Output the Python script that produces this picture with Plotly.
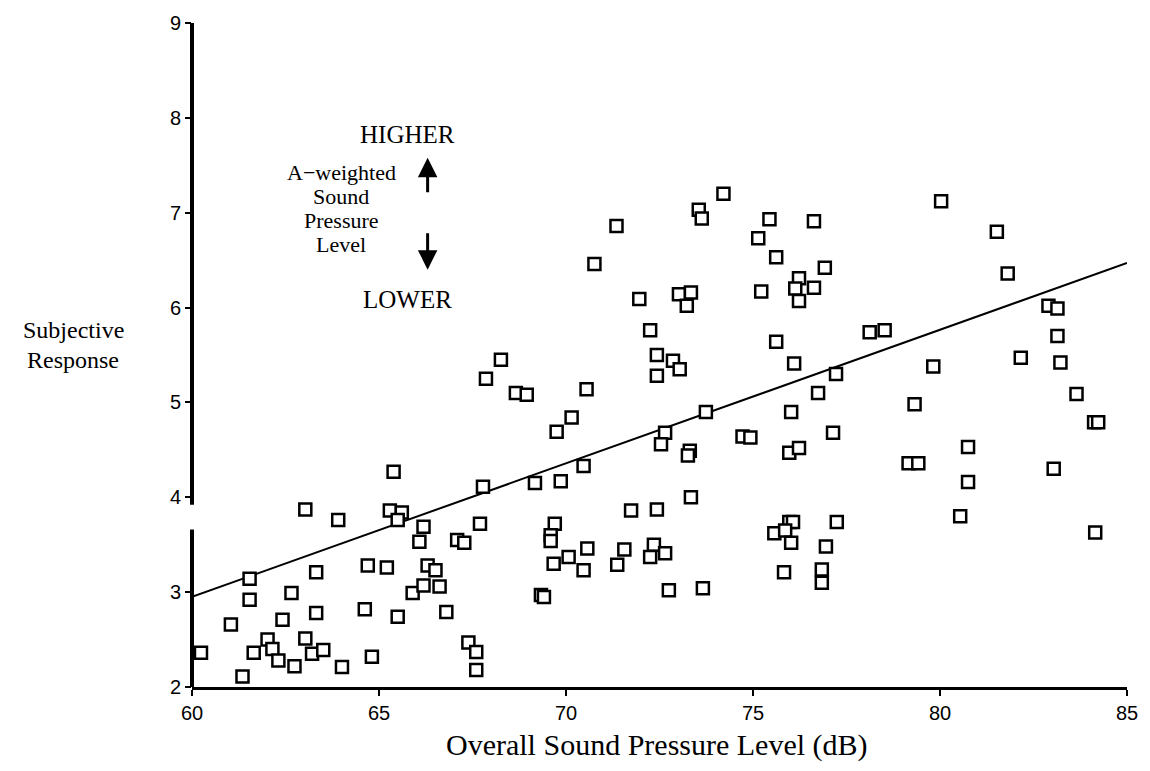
import plotly.graph_objects as go

# Overall sound pressure level (dB)
spl_db = [
    60.24, 61.04, 61.35, 61.54, 61.54, 61.65, 62.02, 62.15, 62.31, 62.42,
    62.66, 62.74, 63.03, 63.21, 63.51, 63.32, 63.32, 64.01, 64.62, 64.70,
    65.21, 64.81, 65.50, 65.90, 66.19, 66.30, 66.51, 66.62, 66.80, 67.39,
    67.60, 67.60, 67.70, 67.78, 63.03, 63.91, 65.29, 65.61, 65.50, 66.19,
    66.08, 67.09, 67.28, 65.39,
    73.74, 76.02, 70.15, 69.75, 72.65, 72.54, 73.31, 73.26, 74.72, 74.93,
    75.97, 76.23, 70.47, 69.17, 69.86, 69.70, 69.59, 69.59, 73.34, 71.74,
    72.43, 70.57, 70.07, 69.67, 70.47, 71.56, 71.37, 72.35, 72.25, 72.65,
    72.75, 73.66, 69.33, 69.41, 75.97, 76.07, 75.57, 75.86, 76.02, 75.83,
    79.32, 77.14, 79.16, 79.42, 80.75, 80.75, 80.54, 83.04, 84.12, 84.23,
    84.15, 77.24, 76.95, 76.84, 76.84,
    74.21, 73.55, 73.63, 71.35, 75.44, 75.14, 75.62, 70.76, 75.22, 71.96,
    73.02, 73.34, 73.23, 72.25, 72.43, 72.86, 73.04, 72.43, 68.26, 67.86,
    68.66, 68.95, 70.55, 75.62, 76.10,
    80.03, 76.63, 81.52, 81.81, 76.92, 76.23, 76.13, 76.63, 76.23, 78.12,
    78.52, 77.22, 76.74, 79.82, 82.16, 82.90, 83.14, 83.14, 83.22, 83.65,
]

# Subjective response
response = [
    2.36, 2.66, 2.11, 3.14, 2.92, 2.36, 2.50, 2.40, 2.28, 2.71,
    2.99, 2.22, 2.51, 2.35, 2.39, 3.21, 2.78, 2.21, 2.82, 3.28,
    3.26, 2.32, 2.74, 2.99, 3.07, 3.28, 3.23, 3.06, 2.79, 2.47,
    2.37, 2.18, 3.72, 4.11, 3.87, 3.76, 3.86, 3.84, 3.76, 3.69,
    3.53, 3.55, 3.52, 4.27,
    4.90, 4.90, 4.84, 4.69, 4.68, 4.56, 4.49, 4.44, 4.64, 4.63,
    4.47, 4.52, 4.33, 4.15, 4.17, 3.72, 3.60, 3.54, 4.00, 3.86,
    3.87, 3.46, 3.37, 3.30, 3.23, 3.45, 3.29, 3.50, 3.37, 3.41,
    3.02, 3.04, 2.97, 2.95, 3.74, 3.74, 3.62, 3.65, 3.52, 3.21,
    4.98, 4.68, 4.36, 4.36, 4.53, 4.16, 3.80, 4.30, 4.79, 4.79,
    3.63, 3.74, 3.48, 3.24, 3.10,
    7.20, 7.03, 6.94, 6.86, 6.93, 6.73, 6.53, 6.46, 6.17, 6.09,
    6.14, 6.16, 6.02, 5.76, 5.50, 5.44, 5.35, 5.28, 5.45, 5.25,
    5.10, 5.08, 5.14, 5.64, 5.41,
    7.12, 6.91, 6.80, 6.36, 6.42, 6.31, 6.20, 6.21, 6.07, 5.74,
    5.76, 5.30, 5.10, 5.38, 5.47, 6.02, 5.99, 5.70, 5.42, 5.09,
]

# Regression line end points
fit_x = [60, 85]
fit_y = [2.95, 6.47]

x_ticks = [60, 65, 70, 75, 80, 85]
y_ticks = [2, 3, 4, 5, 6, 7, 8, 9]

legend_lines = ["A\u2212weighted", "Sound", "Pressure", "Level"]

serif = "Liberation Serif, Times New Roman, serif"
sans = "Liberation Sans Narrow, Arial Narrow, Liberation Sans, Arial, sans-serif"

fig = go.Figure()
fig.add_trace(go.Scatter(
    x=fit_x, y=fit_y, mode="lines",
    line=dict(color="black", width=2), showlegend=False, hoverinfo="skip"))
fig.add_trace(go.Scatter(
    x=spl_db, y=response, mode="markers",
    marker=dict(symbol="square", size=12, color="white",
                line=dict(color="black", width=2.5)),
    showlegend=False))

fig.update_layout(
    width=1150, height=771,
    margin=dict(l=192, r=14, t=21, b=84),
    paper_bgcolor="white", plot_bgcolor="white",
    xaxis=dict(range=[60, 85], tickvals=x_ticks, ticks="outside", ticklen=6,
               tickwidth=2, tickcolor="black", showline=True, linecolor="black",
               linewidth=3, showgrid=False, zeroline=False,
               tickfont=dict(family=sans, size=20, color="black")),
    yaxis=dict(range=[2, 9], tickvals=y_ticks, ticks="outside", ticklen=6,
               tickwidth=2, tickcolor="black", showline=False,
               showgrid=False, zeroline=False,
               tickfont=dict(family=sans, size=20, color="black")),
    font=dict(family=serif, color="black"),
)

# y axis line drawn in two pieces (scan gap near 3.7-3.9)
fig.add_shape(type="line", xref="paper", yref="y", x0=0, x1=0, y0=3.92, y1=9,
              line=dict(color="black", width=4))
fig.add_shape(type="line", xref="paper", yref="y", x0=0, x1=0, y0=2, y1=3.66,
              line=dict(color="black", width=4))

annotations = [
    dict(text="Overall Sound Pressure Level (dB)", xref="paper", yref="paper",
         x=0.497, y=-0.088, xanchor="center", yanchor="middle", showarrow=False,
         font=dict(family=serif, size=30)),
    dict(text="Subjective", xref="paper", yref="paper",
         x=-0.127, y=0.538, xanchor="center", yanchor="middle", showarrow=False,
         font=dict(family=serif, size=24)),
    dict(text="Response", xref="paper", yref="paper",
         x=-0.127, y=0.492, xanchor="center", yanchor="middle", showarrow=False,
         font=dict(family=serif, size=24)),
    dict(text="HIGHER", x=65.75, y=7.82, xref="x", yref="y", showarrow=False,
         font=dict(family=serif, size=25)),
    dict(text="LOWER", x=65.75, y=6.09, xref="x", yref="y", showarrow=False,
         font=dict(family=serif, size=25)),
    dict(text="", x=66.3, y=7.58, xref="x", yref="y", showarrow=True,
         ax=0, ay=36, arrowhead=2, arrowsize=1.3, arrowwidth=3, arrowcolor="black"),
    dict(text="", x=66.3, y=6.4, xref="x", yref="y", showarrow=True,
         ax=0, ay=-38, arrowhead=2, arrowsize=1.3, arrowwidth=3, arrowcolor="black"),
]
for txt, yy in zip(legend_lines, [7.42, 7.17, 6.92, 6.66]):
    annotations.append(dict(text=txt, x=63.99, y=yy, xref="x", yref="y",
                            showarrow=False, font=dict(family=serif, size=22)))
fig.update_layout(annotations=annotations)

fig.write_html("out.html")
